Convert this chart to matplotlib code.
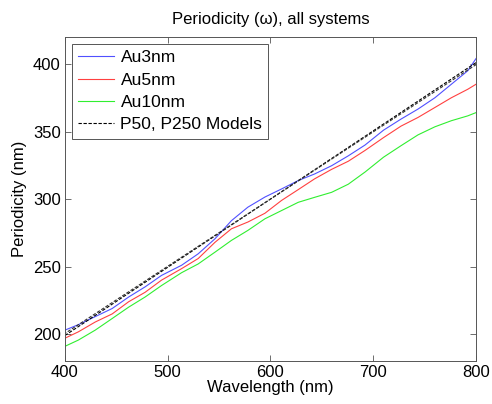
import matplotlib
matplotlib.use("Agg")
import matplotlib.pyplot as plt

plt.rcParams['font.family'] = ['Liberation Sans', 'DejaVu Sans']

# wavelength samples (nm) where the curves were read
wavelength = [400, 413, 429.5, 446, 462, 478, 494, 513.5, 529.7, 546, 562,
              578, 594.6, 610.8, 627, 643, 659.5, 675.7, 692, 710, 727,
              743.5, 760, 776, 792, 800]

# periodicity (nm)
au3 = [203, 207, 213, 219, 227.5, 235, 243.5, 251, 259.5, 270.6, 284,
       294, 301.5, 307.5, 313.7, 318.6, 324.7, 332, 340, 351, 359.2,
       366.6, 375, 385, 395, 404]
au5 = [197, 201.7, 209, 215, 224, 231, 240, 248.5, 256, 268, 278,
       283, 289.5, 299, 307, 315, 322, 328, 336, 345.5, 354,
       360.4, 367.8, 375, 381.3, 385]
au10 = [191, 195.6, 203, 211.6, 220, 227.5, 236, 245.5, 252, 260.7, 269.4,
        276.8, 285.4, 291.5, 297.6, 301.3, 305, 311, 320, 331, 339.5,
        347.5, 353.5, 358, 361.6, 364]

# model lines (end points)
model_wl = [400, 800]
p50 = [199, 401]
p250 = [200.5, 399.5]

fig = plt.figure(figsize=(4.92, 4.04), dpi=100)
ax = fig.add_axes([0.132, 0.106, 0.8355, 0.8025])

ax.plot(wavelength, au3, color='#5050ff', lw=0.8, label='Au3nm')
ax.plot(wavelength, au5, color='#ff4040', lw=0.8, label='Au5nm')
ax.plot(wavelength, au10, color='#30ee30', lw=0.8, label='Au10nm')
ax.plot(model_wl, p50, color='black', lw=0.8, ls=(0, (3, 1.5)),
        label='P50, P250 Models')
ax.plot(model_wl, p250, color='#333333', lw=0.8, ls=(1.5, (3, 1.5)))

ax.set_xlim(400, 800)
ax.set_ylim(180, 420)
ax.set_xticks([400, 500, 600, 700, 800])
ax.set_yticks([200, 250, 300, 350, 400])

ax.tick_params(direction='in', top=True, right=True, length=4,
               width=0.6, color='#555555', labelsize=12, pad=3)
for s in ax.spines.values():
    s.set_color('#555555')
    s.set_linewidth(0.7)

ax.set_xlabel('Wavelength (nm)', fontsize=12, labelpad=0)
ax.set_ylabel('Periodicity (nm)', fontsize=12, labelpad=4)
ax.set_title('Periodicity (\u03c9), all systems', fontsize=12, pad=9)

leg = ax.legend(loc='upper left', fontsize=12.5, handlelength=2.1,
                borderaxespad=0.4, fancybox=False, framealpha=1,
                labelspacing=0.42, borderpad=0.35, handletextpad=0.35)
leg.get_frame().set_edgecolor('#555555')
leg.get_frame().set_linewidth(0.7)

fig.savefig('out.png', dpi=100)
